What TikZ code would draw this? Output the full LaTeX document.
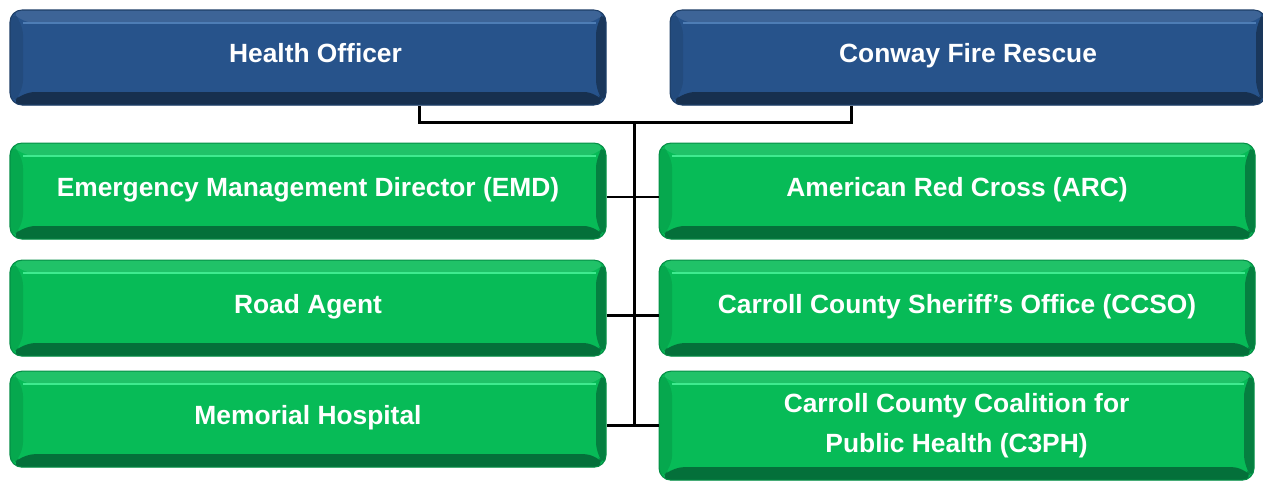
\documentclass[tikz,border=0pt]{standalone}
\usepackage{xcolor}
\usepackage{fontspec}
\newfontfamily\boxfont{Liberation Sans}
\definecolor{officerblue}{HTML}{27538B}
\definecolor{officerdark}{HTML}{17304F}
\definecolor{officerlight}{HTML}{4E7DB5}
\definecolor{partnergreen}{HTML}{07BB57}
\definecolor{partnerdark}{HTML}{04703A}
\definecolor{partnerlight}{HTML}{3FEA8F}
\usepackage{tikz}
\usetikzlibrary{positioning,calc}

\begin{document}
\begin{tikzpicture}[node distance = 4mm,
    bevel/.style n args={3}{fill=#1, draw=#2!60!#1, line width=0.6pt,
        path picture={
        \fill[#1!90!white] (path picture bounding box.north west) -- (path picture bounding box.north east)
            -- ([shift={(-0.2,-0.26)}]path picture bounding box.north east) -- ([shift={(0.26,-0.26)}]path picture bounding box.north west) -- cycle;
        \fill[#1!90!black] (path picture bounding box.north west) -- ([shift={(0.26,-0.26)}]path picture bounding box.north west)
            -- ([shift={(0.26,0.26)}]path picture bounding box.south west) -- (path picture bounding box.south west) -- cycle;
        \fill[#2] (path picture bounding box.south west) -- (path picture bounding box.south east)
            -- ([shift={(-0.2,0.26)}]path picture bounding box.south east) -- ([shift={(0.26,0.26)}]path picture bounding box.south west) -- cycle;
        \fill[#2!80!#1] (path picture bounding box.north east) -- (path picture bounding box.south east)
            -- ([shift={(-0.2,0.26)}]path picture bounding box.south east) -- ([shift={(-0.2,-0.26)}]path picture bounding box.north east) -- cycle;
        \draw[#3, line width=1.4pt] ([shift={(0.26,-0.26)}]path picture bounding box.north west) -- ([shift={(-0.2,-0.26)}]path picture bounding box.north east);
        }},
    box/.style={rectangle, rounded corners = 2.4mm, minimum width = 11.92cm, minimum height = 1.92cm,
        text = white, align = center, font = \boxfont\bfseries\fontsize{15}{22.8}\selectfont},
    oneline/.style={text height = 0.4cm, text depth = 0.2cm},
    officer/.style={box, oneline, minimum height = 1.9cm, bevel={officerblue}{officerdark}{officerlight}},
    partner/.style={box, bevel={partnergreen}{partnerdark}{partnerlight}},
    link/.style={line width = 1.6pt, draw = black}]
    \useasboundingbox (0,0) rectangle (25.26,9.66);
    \node (ho) [officer] at (6.16,8.51) {\hspace*{3mm}Health Officer};
    \node (cfr) [officer, right=1.26cm of ho] {Conway Fire Rescue};
    \node (emd) [partner, oneline, below=7.4mm of ho] {Emergency Management Director (EMD)};
    \node (road) [partner, oneline, below=4mm of emd] {Road Agent};
    \node (hosp) [partner, oneline, below=2.8mm of road] {Memorial Hospital};
    \node (arc) [partner, oneline, right=1.04cm of emd] {American Red Cross (ARC)};
    \node (ccso) [partner, oneline, right=1.04cm of road] {Carroll County Sheriff’s Office (CCSO)};
    \node (c3ph) [partner, minimum width = 11.9cm, minimum height = 2.18cm, right=1.04cm of hosp.north east, anchor=north west] {Carroll County Coalition for\\Public Health (C3PH)};
    \coordinate (hub) at ($(emd.north east)!0.5!(arc.north west)+(0.04,0.4)$);
    \coordinate (hoL) at ([xshift=-4.3cm]hub);
    \coordinate (cfrR) at ([xshift=4.34cm]hub);
    \draw[link] (hoL |- ho.south) -- (hoL) -- (cfrR) -- (cfrR |- cfr.south);
    \draw[link] (hub) -- (hub |- c3ph.west);
    \draw[link] ([yshift=-1.2mm]emd.east) -- ([yshift=-1.2mm]arc.west);
    \draw[link] ([yshift=-1.4mm]road.east) -- ([yshift=-1.4mm]ccso.west);
    \draw[link] (c3ph.west) -- (c3ph.west -| hosp.east);
\end{tikzpicture}
\end{document}
